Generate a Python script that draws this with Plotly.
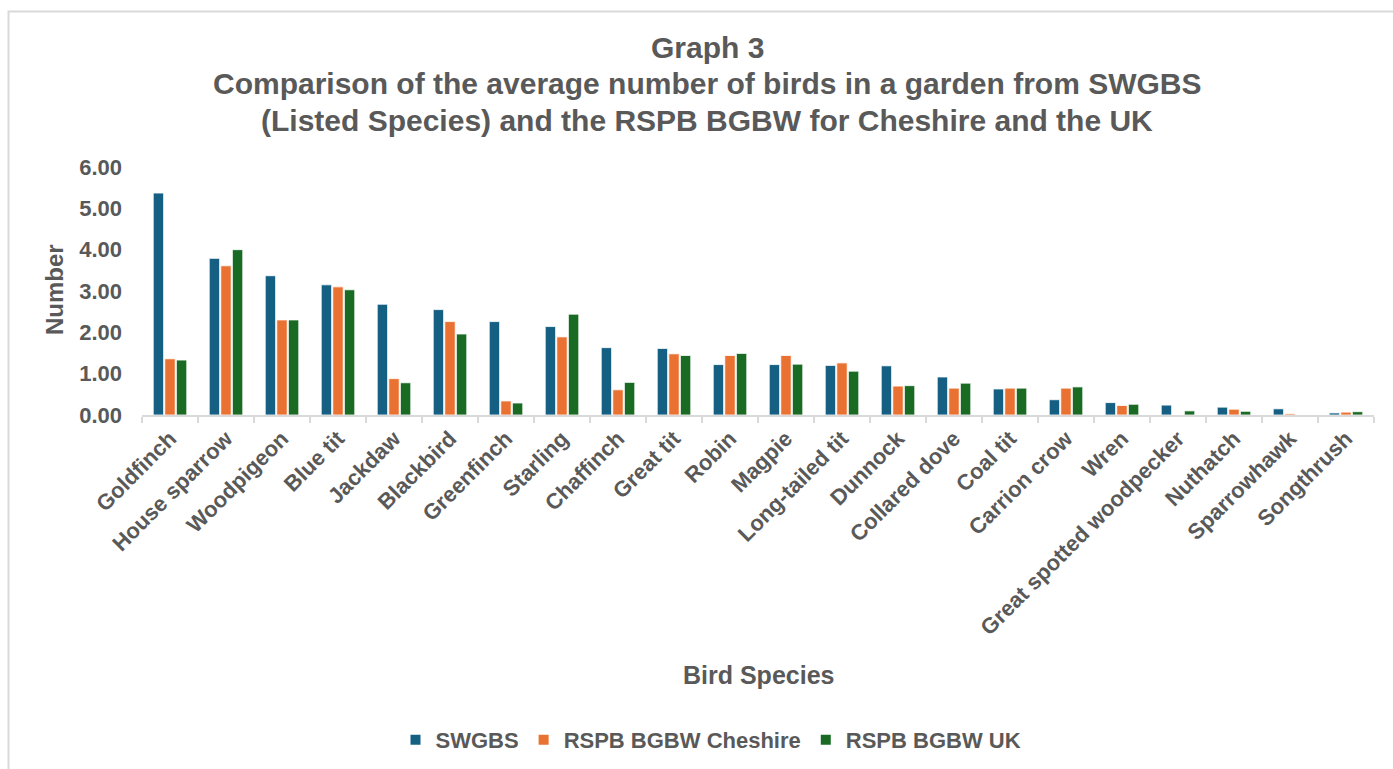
import plotly.graph_objects as go

species = ["Goldfinch", "House sparrow", "Woodpigeon", "Blue tit", "Jackdaw", "Blackbird",
           "Greenfinch", "Starling", "Chaffinch", "Great tit", "Robin", "Magpie",
           "Long-tailed tit", "Dunnock", "Collared dove", "Coal tit", "Carrion crow", "Wren",
           "Great spotted woodpecker", "Nuthatch", "Sparrowhawk", "Songthrush"]

swgbs = [5.37, 3.79, 3.37, 3.15, 2.68, 2.55, 2.26, 2.14, 1.63, 1.61, 1.22, 1.22,
         1.20, 1.19, 0.92, 0.63, 0.37, 0.30, 0.24, 0.19, 0.15, 0.05]
cheshire = [1.36, 3.61, 2.30, 3.10, 0.88, 2.26, 0.34, 1.89, 0.61, 1.48, 1.44, 1.44,
            1.26, 0.70, 0.65, 0.65, 0.65, 0.23, 0.00, 0.14, 0.03, 0.07]
uk = [1.33, 4.00, 2.30, 3.03, 0.78, 1.96, 0.29, 2.44, 0.79, 1.44, 1.49, 1.23,
      1.06, 0.71, 0.77, 0.65, 0.68, 0.26, 0.10, 0.09, 0.00, 0.08]

series_names = ["SWGBS", "RSPB BGBW Cheshire", "RSPB BGBW UK"]
colors = ["#156082", "#E97132", "#196B24"]

title_lines = ["Graph 3",
               "Comparison of the average number of birds in a garden from SWGBS",
               "(Listed Species) and the RSPB BGBW for Cheshire and the UK"]

FONT = "Liberation Sans, Arial, Helvetica, sans-serif"
TXT = "#595959"

W, H = 1393, 769
L, R, T, B = 142, 19, 167, 354
PW, PH = W - L - R, H - T - B


def px_x(x):
    return (x - L) / PW


def px_y(y):
    return (H - B - y) / PH


fig = go.Figure()
for name, vals, c in zip(series_names, [swgbs, cheshire, uk], colors):
    fig.add_trace(go.Bar(x=species, y=vals, name=name,
                         marker=dict(color=c, line=dict(color="white", width=0.8))))

fig.update_layout(
    width=W, height=H,
    margin=dict(l=L, r=R, t=T, b=B, autoexpand=False),
    paper_bgcolor="white", plot_bgcolor="white",
    barmode="group", bargap=0.38, bargroupgap=0.1,
    font=dict(family=FONT, color=TXT),
    showlegend=True,
    legend=dict(orientation="h", x=px_x(711), xanchor="center", y=px_y(740), yanchor="middle",
                font=dict(family=FONT, size=22, color=TXT, weight="bold"),
                itemsizing="constant", traceorder="normal", itemwidth=30),
    xaxis=dict(type="category", showline=True, linecolor="#d9d9d9", linewidth=2,
               ticks="outside", tickson="boundaries", ticklen=6, tickcolor="#d9d9d9", tickwidth=2,
               tickangle=-45, tickfont=dict(family=FONT, size=22, color=TXT, weight="bold"),
               showgrid=False, zeroline=False),
    yaxis=dict(range=[0, 6], tickvals=[0, 1, 2, 3, 4, 5, 6], tickformat=".2f",
               showgrid=False, zeroline=False, showline=False, ticks="",
               ticklabelstandoff=19,
               tickfont=dict(family=FONT, size=22, color=TXT, weight="bold")),
)

for line, yc in zip(title_lines, [47, 84, 121]):
    fig.add_annotation(text=line, xref="paper", yref="paper", x=px_x(707), y=px_y(yc),
                       xanchor="center", yanchor="middle", showarrow=False,
                       font=dict(family=FONT, size=30, color=TXT, weight="bold"))
fig.add_annotation(text="Number", xref="paper", yref="paper", x=px_x(54), y=px_y(290),
                   xanchor="center", yanchor="middle", textangle=-90, showarrow=False,
                   font=dict(family=FONT, size=24, color=TXT, weight="bold"))
fig.add_annotation(text="Bird Species", xref="paper", yref="paper", x=px_x(758), y=px_y(675),
                   xanchor="center", yanchor="middle", showarrow=False,
                   font=dict(family=FONT, size=25, color=TXT, weight="bold"))

fig.add_shape(type="rect", xref="paper", yref="paper",
              x0=px_x(8.5), x1=px_x(1410), y0=px_y(790), y1=px_y(11.5),
              line=dict(color="#d9d9d9", width=2), fillcolor="rgba(0,0,0,0)", layer="below")

fig.write_html("out.html")
